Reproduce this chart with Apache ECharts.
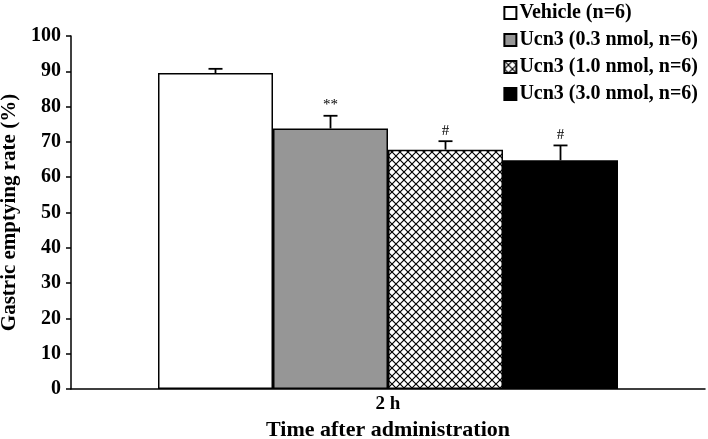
<!DOCTYPE html>
<html>
<head>
<meta charset="utf-8">
<script src="https://cdn.jsdelivr.net/npm/echarts@6/dist/echarts.min.js"></script>
<style>
  html, body { margin: 0; padding: 0; background: #fff; }
  #chartDiv { width: 708px; height: 439px; }
</style>
</head>
<body>
<div id="chartDiv"></div>
<script>
var categories = ["2 h"];
var groupNames = ["Vehicle (n=6)", "Ucn3 (0.3 nmol, n=6)", "Ucn3 (1.0 nmol, n=6)", "Ucn3 (3.0 nmol, n=6)"];
var means = [89.5, 73.8, 67.8, 64.8];
var errors = [1.2, 3.6, 2.4, 4.2];
var marks = ["", "**", "#", "#"];

var BAR_W = 115;
var FONT = "'Liberation Serif', 'Times New Roman', serif";

// cross-hatch fill
function hatch() {
  var c = document.createElement("canvas");
  c.width = 8; c.height = 8;
  var ctx = c.getContext("2d");
  ctx.fillStyle = "#fff";
  ctx.fillRect(0, 0, 8, 8);
  ctx.strokeStyle = "#000";
  ctx.lineWidth = 1.2;
  ctx.beginPath();
  ctx.moveTo(0, 0); ctx.lineTo(8, 8);
  ctx.moveTo(8, 0); ctx.lineTo(0, 8);
  ctx.stroke();
  return c;
}

var fills = ["#ffffff", "#969696", { image: hatch(), repeat: "repeat" }, "#000000"];

var myChart = echarts.init(document.getElementById("chartDiv"));

var series = [];
for (var i = 0; i < groupNames.length; i++) {
  series.push({
    name: groupNames[i],
    type: "bar",
    barWidth: BAR_W,
    barGap: "0%",
    data: [means[i]],
    itemStyle: { color: fills[i], borderColor: "#000", borderWidth: 1.5 },
    emphasis: { disabled: true },
    animation: false
  });
}

var errData = [];
for (var j = 0; j < means.length; j++) {
  errData.push([0, means[j], errors[j], j]);
}

series.push({
  type: "custom",
  data: errData,
  z: 10,
  animation: false,
  renderItem: function (params, api) {
    var k = api.value(3);
    var base = api.coord([api.value(0), api.value(1)]);
    var top = api.coord([api.value(0), api.value(1) + api.value(2)]);
    var x = base[0] + (k - 1.5) * BAR_W;
    var st = { stroke: "#000", lineWidth: 1.8 };
    return {
      type: "group",
      children: [
        { type: "line", shape: { x1: x, y1: base[1], x2: x, y2: top[1] }, style: st },
        { type: "line", shape: { x1: x - 7, y1: top[1], x2: x + 7, y2: top[1] }, style: st },
        { type: "text", style: { text: marks[k], x: x, y: top[1] - 3, align: "center", verticalAlign: "bottom", font: "15px " + FONT, fill: "#000" } }
      ]
    };
  }
});

var option = {
  backgroundColor: "#fff",
  grid: { left: 71, right: 3, top: 36, bottom: 50, outerBoundsMode: "none", containLabel: false },
  legend: {
    data: groupNames,
    orient: "vertical",
    right: 5,
    top: -2,
    itemWidth: 12,
    itemHeight: 12,
    itemGap: 7,
    icon: "rect",
    textStyle: { fontFamily: FONT, fontWeight: "bold", fontSize: 20, lineHeight: 20, color: "#000", padding: [0, 0, 0, -2] },
    selectedMode: false
  },
  xAxis: {
    type: "category",
    data: categories,
    name: "Time after administration",
    nameLocation: "middle",
    nameGap: 28,
    nameTextStyle: { fontFamily: FONT, fontWeight: "bold", fontSize: 22, color: "#000" },
    axisLine: { lineStyle: { color: "#000", width: 1.5 } },
    axisTick: { show: false },
    axisLabel: { fontFamily: FONT, fontWeight: "bold", fontSize: 19, color: "#000", margin: 6 }
  },
  yAxis: {
    type: "value",
    min: 0,
    max: 100,
    interval: 10,
    name: "Gastric emptying rate (%)",
    nameLocation: "middle",
    nameGap: 49,
    nameTextStyle: { fontFamily: FONT, fontWeight: "bold", fontSize: 21, color: "#000" },
    axisLine: { show: true, lineStyle: { color: "#000", width: 1.5 } },
    axisTick: { show: true, length: 5, lineStyle: { color: "#000", width: 1.5 } },
    splitLine: { show: false },
    axisLabel: { fontFamily: FONT, fontWeight: "bold", fontSize: 20, color: "#000", margin: 10 }
  },
  series: series
};

myChart.setOption(option);

window.addEventListener("resize", function () {
  myChart.resize();
});
</script>
</body>
</html>
